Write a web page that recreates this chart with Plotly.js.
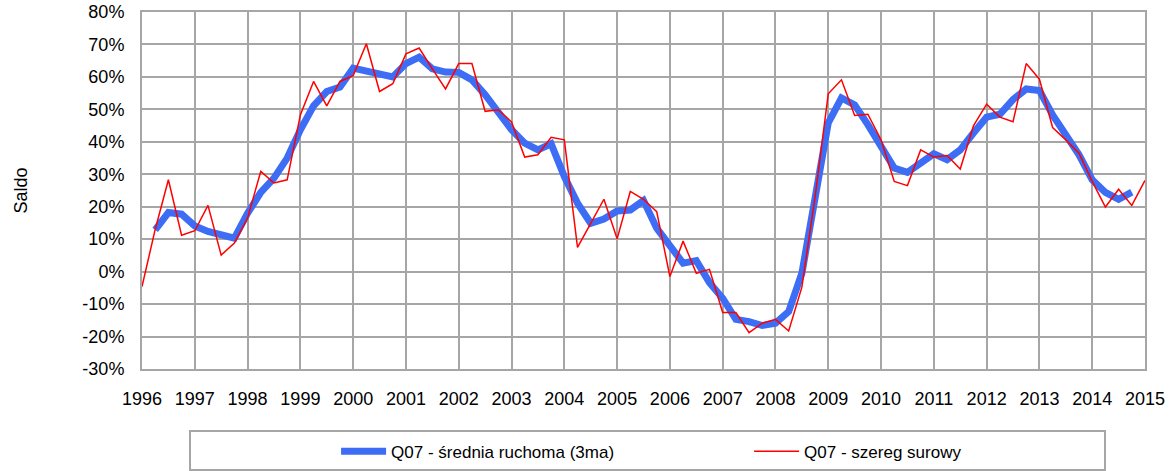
<!DOCTYPE html>
<html>
<head>
<meta charset="utf-8">
<script src="https://cdn.plot.ly/plotly-3.0.1.min.js"></script>
<style>html,body{margin:0;padding:0;background:#fff;}#chart{width:1176px;height:471px;}</style>
</head>
<body>
<div id="chart"></div>
<script>
// Quarterly series, first quarter of 1996 onwards (values in %)
const startYear = 1996;
const rawStartQuarter = 0;   // raw series starts 1996 Q1
const maStartQuarter = 1;    // moving average starts 1996 Q2

const rawSeries = [
  -4.6, 13.0, 28.3, 11.2,
  12.6, 20.4, 5.1, 8.8,
  16.5, 30.9, 27.3, 28.3,
  48.3, 58.6, 51.1, 58.6,
  60.4, 70.2, 55.5, 57.9,
  67.1, 68.9, 62.5, 56.3,
  64.1, 64.1, 49.4, 49.9,
  46.1, 35.3, 36.0, 41.4,
  40.6, 7.5, 14.9, 22.3,
  10.1, 24.7, 22.3, 18.5,
  -1.5, 9.4, -0.5, 0.7,
  -12.6, -12.6, -18.8, -15.9,
  -14.7, -18.3, -4.8, 23.0,
  54.8, 59.1, 48.1, 48.5,
  40.6, 27.8, 26.5, 37.5,
  35.3, 35.8, 31.6, 44.9,
  51.6, 47.6, 46.2, 64.1,
  59.3, 44.4, 40.6, 36.5,
  27.8, 19.9, 25.4, 20.4,
  28.1
];

const maSeries = [
  12.9, 18.2, 17.7,
  14.1, 12.4, 11.3, 10.3,
  18.0, 24.4, 28.8, 35.0,
  43.7, 51.1, 55.5, 56.9,
  62.7, 61.9, 61.2, 60.0,
  64.1, 66.1, 62.5, 61.5,
  61.4, 59.1, 54.5, 48.9,
  43.7, 39.6, 37.5, 39.4,
  29.3, 21.1, 14.9, 16.2,
  18.7, 19.0, 21.9, 13.4,
  8.3, 2.6, 3.4, -3.4,
  -8.2, -14.7, -15.4, -16.6,
  -15.9, -12.3, -0.5, 24.2,
  45.8, 53.5, 51.4, 45.3,
  38.5, 31.9, 30.6, 33.4,
  36.3, 34.5, 37.5, 42.7,
  47.6, 48.5, 53.0, 56.3,
  55.8, 48.3, 42.2, 36.0,
  28.3, 24.4, 22.3, 24.5
];

const yearTicks = [1996,1997,1998,1999,2000,2001,2002,2003,2004,2005,2006,2007,2008,2009,2010,2011,2012,2013,2014,2015];
const yTicks = [-30,-20,-10,0,10,20,30,40,50,60,70,80];

const seriesNames = ['Q07 - średnia ruchoma (3ma)', 'Q07 - szereg surowy'];
const yTitle = 'Saldo';

const qx = (start, n) => Array.from({length: n}, (_, i) => startYear + (start + i) / 4);

const font = 'Liberation Sans, Arial, sans-serif';

const traces = [
  {
    x: qx(maStartQuarter, maSeries.length), y: maSeries,
    type: 'scatter', mode: 'lines', name: seriesNames[0],
    line: {color: '#3d6cf5', width: 7}
  },
  {
    x: qx(rawStartQuarter, rawSeries.length), y: rawSeries,
    type: 'scatter', mode: 'lines', name: seriesNames[1],
    line: {color: '#ff0000', width: 1.5}
  }
];

const layout = {
  width: 1176, height: 471,
  margin: {l: 142, r: 31, t: 12, b: 102, autoexpand: false},
  paper_bgcolor: '#ffffff', plot_bgcolor: '#ffffff',
  font: {family: font, size: 18, color: '#000000'},
  showlegend: true,
  xaxis: {
    range: [1996, 2015], tickvals: yearTicks, ticktext: yearTicks.map(String),
    showgrid: true, gridcolor: '#a6a6a6', gridwidth: 2,
    showline: true, linecolor: '#a6a6a6', linewidth: 2, mirror: true,
    zeroline: false, ticks: '', ticklabelstandoff: 12, automargin: false,
    tickfont: {family: font, size: 18, color: '#000'}
  },
  yaxis: {
    range: [-30, 80], tickvals: yTicks, ticktext: yTicks.map(v => v + '%'),
    showgrid: true, gridcolor: '#a6a6a6', gridwidth: 2,
    showline: true, linecolor: '#a6a6a6', linewidth: 2, mirror: true,
    zeroline: false, ticks: '', ticklabelstandoff: 12, automargin: false,
    tickfont: {family: font, size: 18, color: '#000'},
    title: {text: yTitle, font: {family: font, size: 18, color: '#000'}, standoff: 50}
  },
  legend: {
    orientation: 'h', x: 0.1935, xanchor: 'left', y: -0.232, yanchor: 'middle',
    itemwidth: 45,
    entrywidth: 353, entrywidthmode: 'pixels',
    font: {family: font, size: 17, color: '#000'},
    bgcolor: 'rgba(0,0,0,0)', borderwidth: 0
  },
  shapes: [
    {type: 'rect', xref: 'paper', yref: 'paper',
     x0: (190 - 142) / 1003, x1: (1105 - 142) / 1003,
     y0: (369 - 470) / 357, y1: (369 - 431) / 357,
     line: {color: '#a6a6a6', width: 2}, fillcolor: 'rgba(0,0,0,0)', layer: 'below'}
  ]
};

Plotly.newPlot('chart', traces, layout, {staticPlot: true, displayModeBar: false});
</script>
</body>
</html>
